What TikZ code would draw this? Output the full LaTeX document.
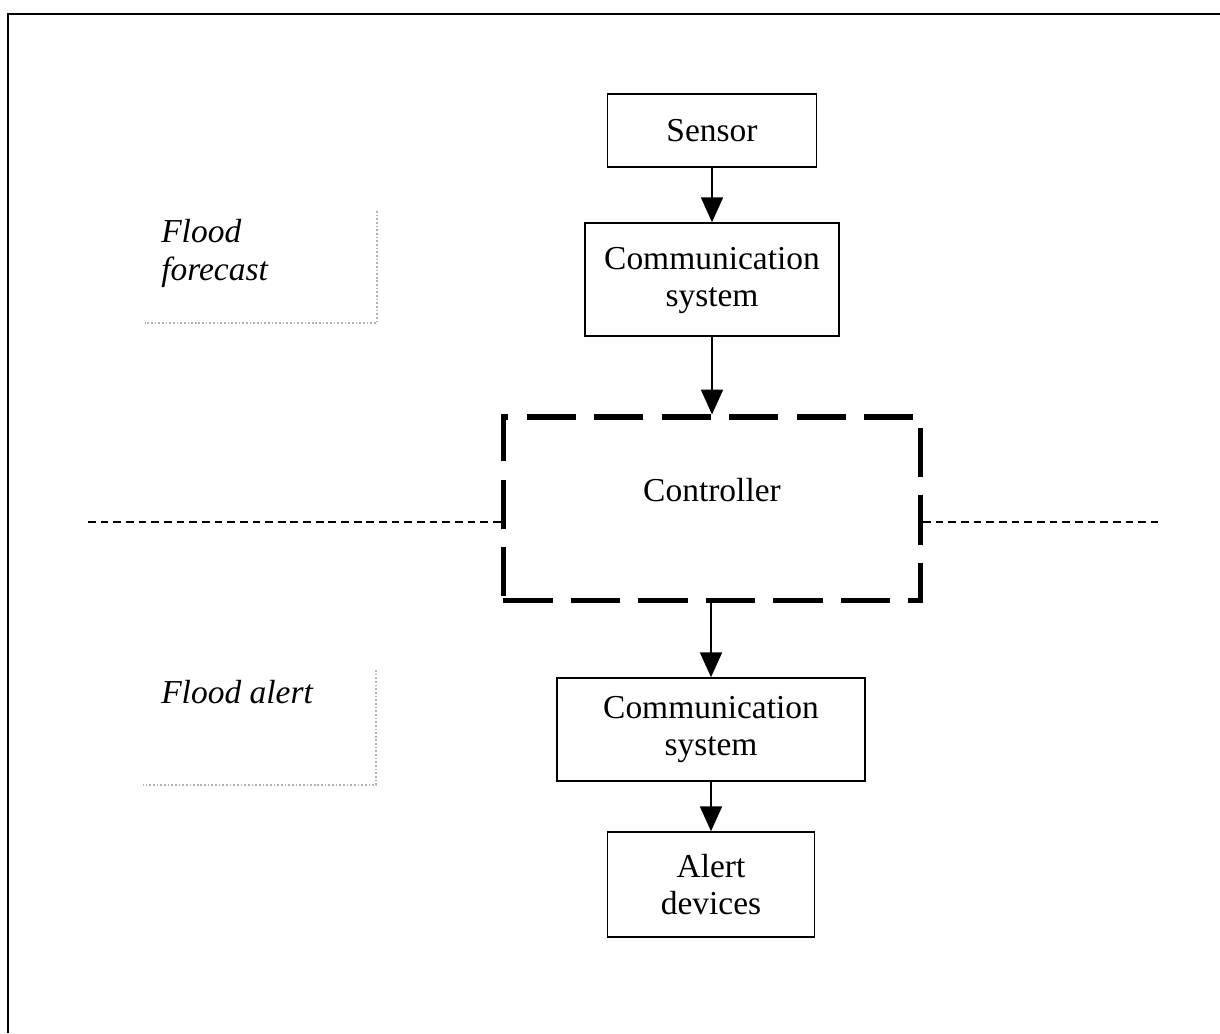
\documentclass[tikz,border=0pt]{standalone}
\usepackage{fontspec}
\setmainfont{Liberation Serif}
\usetikzlibrary{arrows.meta}
\begin{document}
\begin{tikzpicture}[x=0.025cm,y=-0.025cm,
  box/.style={draw, line width=1.1pt, align=center, inner sep=0pt,
    font=\fontsize{23.8}{26.5}\selectfont},
  ctrlbox/.style={draw, line width=3.6pt, dash pattern=on 35pt off 13pt,
    minimum width=10.425cm, minimum height=4.575cm, inner sep=0pt},
  txt/.style={font=\fontsize{23.8}{26.5}\selectfont, inner sep=0pt},
  arr/.style={line width=1.2pt, -{Triangle[width=0.55cm,length=0.62cm]}},
  sepline/.style={line width=1.1pt, dash pattern=on 5.5pt off 3.5pt},
  lbl/.style={font=\fontsize{23.8}{27}\selectfont\itshape, align=left,
    inner sep=0pt, anchor=north west},
  ghost/.style={draw=gray!60, line width=1.2pt, dash pattern=on 1.2pt off 1.4pt}]
\useasboundingbox (0,0) rectangle (1220,1033);
% outer frame (cropped)
\draw[line width=1.4pt] (8,1033) -- (8,14) -- (1220,14);

% boxes
\node[box, minimum width=5.225cm, minimum height=1.825cm] (sensor) at (712,130.5) {Sensor};
\node[box, minimum width=6.35cm, minimum height=2.825cm, text depth=4pt] (comm1) at (712,279.5) {Communication\\system};
\node[ctrlbox] (ctrl) at (712,508.5) {};
\node[txt] (ctrltext) at (712,490) {Controller};
\node[box, minimum width=7.7cm, minimum height=2.575cm] (comm2) at (711,729.5) {Communication\\system};
\node[box, minimum width=5.175cm, minimum height=2.625cm] (alert) at (711,884.5) {Alert\\devices};

% arrows
\draw[arr] (sensor) -- (comm1);
\draw[arr] (comm1) -- (ctrl);
\draw[arr] (ctrl.south -| comm2.north) -- (comm2);
\draw[arr] (comm2) -- (alert);

% separating dashed line
\coordinate (sepL) at (88,522);
\coordinate (sepR) at (1158,522);
\draw[sepline] (sepL) -- (sepL -| ctrl.west);
\draw[sepline] (ctrl.east |- sepR) -- (sepR);

% side labels
\node[lbl] (forecast) at (161,219) {Flood\\forecast};
\node[lbl] (floodalert) at (161,680) {Flood alert};

% faint text-box remnants
\draw[ghost] (377,211) -- (377,323) -- (145,323);
\draw[ghost] (376,670) -- (376,785) -- (143,785);
\end{tikzpicture}
\end{document}
